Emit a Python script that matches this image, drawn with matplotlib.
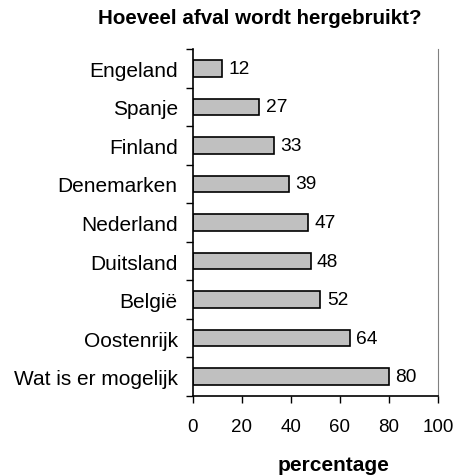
import matplotlib
matplotlib.use("Agg")
import matplotlib.pyplot as plt
import numpy as np

plt.rcParams['font.family'] = ['Liberation Sans', 'DejaVu Sans']

categories = ["Engeland", "Spanje", "Finland", "Denemarken", "Nederland",
              "Duitsland", "België", "Oostenrijk", "Wat is er mogelijk"]
values = [12, 27, 33, 39, 47, 48, 52, 64, 80]
xticks = [0, 20, 40, 60, 80, 100]

fig = plt.figure(figsize=(4.56, 4.77), dpi=100)
ax = fig.add_axes([193/456, 1-397/477, (438-193)/456, (397-50)/477])

y = np.arange(len(categories))
ax.barh(y, values, height=0.43, color='#C0C0C0', edgecolor='black', linewidth=1.2)
for yi, v in zip(y, values):
    ax.text(v + 2.6, yi, str(v), va='center', ha='left', fontsize=13.8)

ax.set_xlim(0, 100)
ax.set_ylim(len(categories) - 0.5, -0.5)
ax.set_xticks(xticks)
ax.set_xticklabels([str(t) for t in xticks], fontsize=13.5)
ax.set_yticks(y)
ax.set_yticklabels(categories, fontsize=15)
ax.tick_params(axis='y', length=0, pad=11)
ax.set_yticks(np.arange(-0.5, len(categories), 1.0), minor=True)
ax.tick_params(axis='y', which='minor', length=5, width=1, direction='out')
ax.tick_params(axis='x', length=5, width=1, direction='out', pad=10.5)

ax.spines['top'].set_visible(False)
ax.spines['right'].set_color('#808080')
ax.spines['left'].set_linewidth(1.2)
ax.spines['bottom'].set_linewidth(1.2)

fig.text(334/456, 1-466/477, "percentage", ha='center', va='center',
         fontsize=15, fontweight='bold')
fig.text(260/456, 1-19/477, "Hoeveel afval wordt hergebruikt?", ha='center', va='center',
         fontsize=14.8, fontweight='bold')

fig.savefig("out.png", dpi=100)
